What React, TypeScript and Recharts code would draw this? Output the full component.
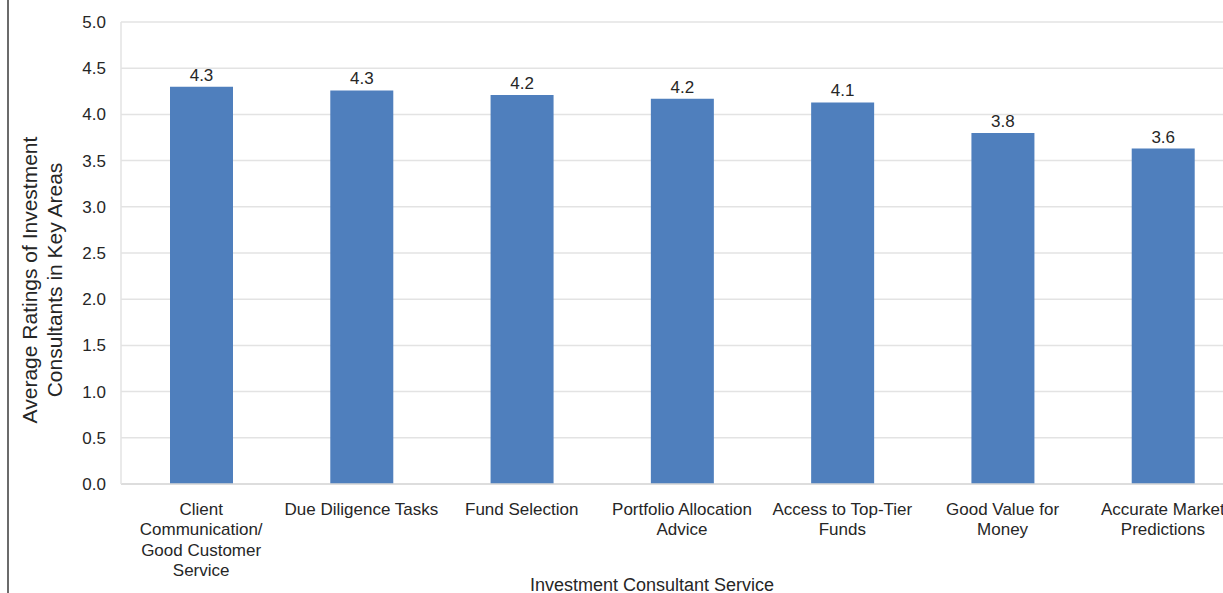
import React from 'react'
import { BarChart, Bar, XAxis, YAxis, CartesianGrid, LabelList } from 'recharts'

// categories (line breaks as in the original axis)
const services = [
  'Client\nCommunication/\nGood Customer\nService',
  'Due Diligence Tasks',
  'Fund Selection',
  'Portfolio Allocation\nAdvice',
  'Access to Top-Tier\nFunds',
  'Good Value for\nMoney',
  'Accurate Market\nPredictions',
]
const ratings = [4.3, 4.26, 4.21, 4.17, 4.13, 3.8, 3.63]
const yTicks = [0, 0.5, 1, 1.5, 2, 2.5, 3, 3.5, 4, 4.5, 5]

const data = services.map((service, i) => ({ service, rating: ratings[i] }))

const FONT = '"Liberation Sans", Arial, sans-serif'
const TEXT = '#262626'

function ServiceTick(props: any) {
  const { x, y, payload } = props
  const lines = String(payload.value).split('\n')
  return (
    <g transform={`translate(${x},${y})`}>
      {lines.map((line, i) => (
        <text
          key={i}
          x={0}
          y={25 + i * 20.6}
          textAnchor="middle"
          dominantBaseline="central"
          fontFamily={FONT}
          fontSize={17}
          fill={TEXT}
        >
          {line}
        </text>
      ))}
    </g>
  )
}

function YTitle() {
  return (
    <g fontFamily={FONT} fontSize={21} fill={TEXT} textAnchor="middle">
      <text x={29} y={280} transform="rotate(-90 29 280)" dominantBaseline="central">
        Average Ratings of Investment
      </text>
      <text x={54} y={280} transform="rotate(-90 54 280)" dominantBaseline="central">
        Consultants in Key Areas
      </text>
    </g>
  )
}

export default function App() {
  return (
    <div
      style={{
        position: 'absolute',
        left: 0,
        top: 0,
        width: 1223,
        height: 593,
        overflow: 'hidden',
        background: '#fff',
      }}
    >
      <div style={{ position: 'absolute', left: 7, top: 0, width: 2, height: 593, background: '#6b6b6b' }} />
      <BarChart
        width={1243}
        height={593}
        data={data}
        margin={{ top: 22, right: 0, bottom: 0, left: 0 }}
        barSize={63}
      >
        <CartesianGrid vertical={false} stroke="#e3e3e3" strokeWidth={1.5} />
        <XAxis
          dataKey="service"
          interval={0}
          height={109}
          tickSize={0}
          tickMargin={0}
          tick={<ServiceTick />}
          axisLine={{ stroke: '#d9d9d9', strokeWidth: 1.5 }}
          tickLine={false}
          label={{
            value: 'Investment Consultant Service',
            position: 'insideBottom',
            offset: 2,
            dx: -30,
            fontFamily: FONT,
            fontSize: 18,
            fill: TEXT,
          }}
        />
        <YAxis
          width={121}
          domain={[0, 5]}
          ticks={yTicks}
          tickFormatter={(v: number) => v.toFixed(1)}
          tickSize={0}
          tickMargin={15}
          tick={{ fontFamily: FONT, fontSize: 17, fill: TEXT }}
          axisLine={{ stroke: '#e3e3e3', strokeWidth: 1.5 }}
          tickLine={false}
          label={{ content: () => <YTitle /> }}
        />
        <Bar dataKey="rating" fill="#4f7fbd" isAnimationActive={false}>
          <LabelList
            dataKey="rating"
            position="top"
            offset={6}
            formatter={(v: any) => Number(v).toFixed(1)}
            fontFamily={FONT}
            fontSize={17}
            fill={TEXT}
          />
        </Bar>
      </BarChart>
    </div>
  )
}
